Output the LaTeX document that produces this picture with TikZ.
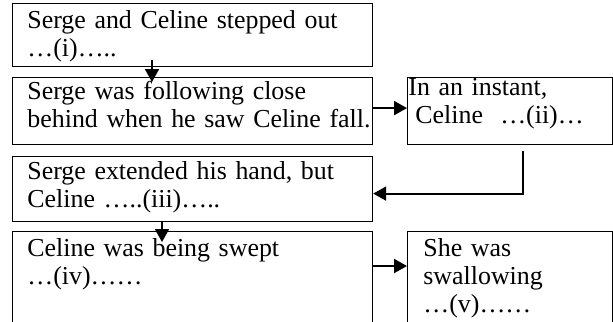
\documentclass[tikz,border=0pt]{standalone}
\usepackage{fontspec}
\setmainfont{Liberation Serif}
\usetikzlibrary{arrows.meta,calc}

\begin{document}
\begin{tikzpicture}[x=0.5pt,y=-0.5pt,
    box/.style={draw, line width=0.6pt, inner sep=0pt, anchor=north west},
    txt/.style={anchor=base west, inner sep=0pt, align=left, text width=200pt,
        font=\fontsize{12.95}{14}\selectfont},
    arr/.style={-{Triangle[length=6.5pt,width=7pt]}, line width=1pt}]
    \useasboundingbox (0,0) rectangle (613,321);
    \clip (0,0) rectangle (613,321);
    % boxes
    \node[box, minimum width=180pt, minimum height=31.5pt] at (12,3) (b1) {};
    \node[box, minimum width=180pt, minimum height=33.5pt] at (12,77) (b2) {};
    \node[box, minimum width=102.5pt, minimum height=33.5pt] at (407,77) (b3) {};
    \node[box, minimum width=180pt, minimum height=32.5pt] at (12,156) (b4) {};
    \node[box, minimum width=180pt, minimum height=54.5pt] at (12,231) (b5) {};
    \node[box, minimum width=102.5pt, minimum height=54.5pt] at (407,231) (b6) {};
    % texts
    \node[txt] at ($(b1.north west)+(15,25)$) (t1) {Serge and Celine stepped out\\…(i)…..};
    \node[txt] at ($(b2.north west)+(15,22)$) (t2) {Serge was following close\\behind when he saw Celine fall.};
    \node[txt] at ($(b3.north west)+(1,18)$) (t3) {In an instant,\\\hspace*{3.5pt}Celine\ \ …(ii)…};
    \node[txt] at ($(b4.north west)+(15,23)$) (t4) {Serge extended his hand, but\\Celine …..(iii)…..};
    \node[txt] at ($(b5.north west)+(15,25)$) (t5) {Celine was being swept\\…(iv)……};
    \node[txt] at ($(b6.north west)+(16,25)$) (t6) {She was\\swallowing\\…(v)……};
    % arrows
    \draw[arr] ($(b1.south west)+(140,-7)$) -- ($(b2.north west)+(140,5)$);
    \draw[arr] ($(b2.east)+(0,-3)$) -- ($(b3.west)+(0,-3)$);
    \draw[arr] ($(b3.south west)+(116,6)$) |- ($(b4.east)+(0,4.5)$);
    \draw[arr] ($(b4.south west)+(150,-1)$) -- ($(b5.north west)+(150,11)$);
    \draw[arr] ($(b5.north east)+(0,35)$) -- ($(b6.north west)+(0,35)$);
\end{tikzpicture}
\end{document}
